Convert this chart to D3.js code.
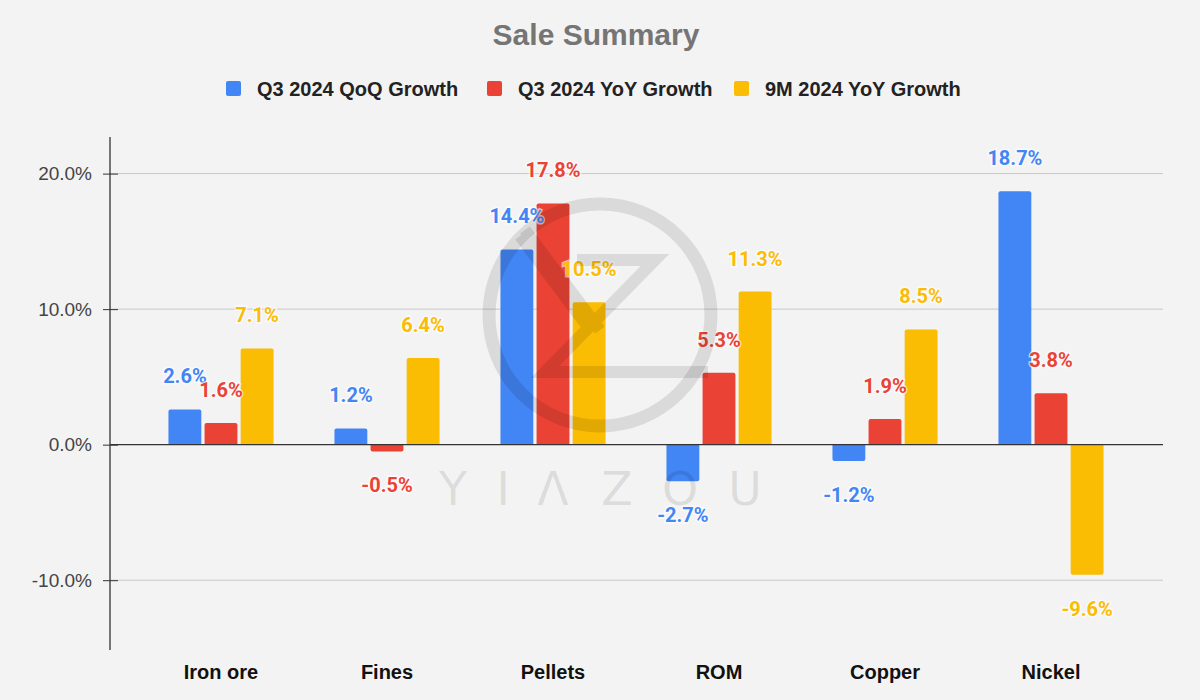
<!DOCTYPE html>
<html>
<head>
<meta charset="utf-8">
<script src="https://cdn.jsdelivr.net/npm/d3@7"></script>
<style>
  html, body { margin: 0; padding: 0; background: #f3f3f3; }
  svg { display: block; }
</style>
</head>
<body>
<svg id="chart" width="1200" height="700"></svg>
<script>
const categories = ["Iron ore", "Fines", "Pellets", "ROM", "Copper", "Nickel"];
const seriesNames = ["Q3 2024 QoQ Growth", "Q3 2024 YoY Growth", "9M 2024 YoY Growth"];
const qoqGrowth = [2.6, 1.2, 14.4, -2.7, -1.2, 18.7];
const yoyGrowth = [1.6, -0.5, 17.8, 5.3, 1.9, 3.8];
const nineMonthGrowth = [7.1, 6.4, 10.5, 11.3, 8.5, -9.6];
const yTicks = [-10, 0, 10, 20];
const colors = ["#4285F4", "#EA4335", "#FBBC04"];

const seriesValues = [qoqGrowth, yoyGrowth, nineMonthGrowth];
const data = categories.map((c, i) => ({
  cat: c,
  vals: seriesValues.map((s, k) => ({ key: seriesNames[k], v: s[i], k }))
}));

const svg = d3.select("#chart");
const W = 1200, H = 700;
svg.append("rect").attr("width", W).attr("height", H).attr("fill", "#f3f3f3");

const axisX = 110, plotRight = 1163, plotTop = 137, plotBottom = 650;

const y = d3.scaleLinear().domain([-15.15, 22.7]).range([plotBottom, plotTop]);
const x0 = d3.scaleBand().domain(categories).range([138, 1134]).paddingInner(0.367).paddingOuter(0.1835);
const x1 = d3.scaleBand().domain([0, 1, 2]).range([0, x0.bandwidth()]).paddingInner(0.09);

// Title
svg.append("text").attr("x", 596).attr("y", 45).attr("text-anchor", "middle")
  .attr("font-family", "Liberation Sans, Arial, sans-serif").attr("font-weight", "bold")
  .attr("font-size", 30).attr("fill", "#757575").text("Sale Summary");

// Legend
const legendX = [226, 487, 734];
const lg = svg.append("g");
seriesNames.forEach((n, k) => {
  lg.append("rect").attr("x", legendX[k]).attr("y", 81).attr("width", 15).attr("height", 15)
    .attr("rx", 2).attr("fill", colors[k]);
  lg.append("text").attr("x", legendX[k] + 31).attr("y", 95.5)
    .attr("font-family", "Liberation Sans, Arial, sans-serif").attr("font-weight", "bold")
    .attr("font-size", 20).attr("fill", "#222").text(n);
});

// Gridlines
const grid = svg.append("g");
grid.selectAll("line").data(yTicks.filter(t => t !== 0)).join("line")
  .attr("x1", axisX).attr("x2", plotRight)
  .attr("y1", d => y(d)).attr("y2", d => y(d))
  .attr("stroke", "#c8c8c8").attr("stroke-width", 1);

// Y axis
const yAxis = d3.axisLeft(y).tickValues(yTicks).tickFormat(d => d.toFixed(1) + "%").tickSize(7).tickPadding(8);
const ya = svg.append("g").attr("transform", `translate(${axisX},0)`).call(yAxis);
ya.select(".domain").remove();
ya.selectAll(".tick line").attr("x2", 8).attr("x1", -7).attr("stroke", "#333");
ya.selectAll(".tick text").attr("font-family", "Liberation Sans, Arial, sans-serif")
  .attr("font-size", 19).attr("fill", "#444").attr("x", -18);
svg.append("line").attr("x1", axisX).attr("x2", axisX).attr("y1", plotTop).attr("y2", plotBottom)
  .attr("stroke", "#333").attr("stroke-width", 1.3);

// Bars
const groups = svg.append("g").selectAll("g").data(data).join("g")
  .attr("transform", d => `translate(${x0(d.cat)},0)`);

groups.selectAll("path.bar").data(d => d.vals).join("path").attr("class", "bar")
  .attr("fill", d => colors[d.k])
  .attr("d", d => {
    const xL = x1(d.k), w = x1.bandwidth();
    const yv = y(d.v), y0 = y(0), r = 2;
    if (d.v >= 0) {
      return `M${xL},${y0}V${yv + r}Q${xL},${yv} ${xL + r},${yv}H${xL + w - r}Q${xL + w},${yv} ${xL + w},${yv + r}V${y0}Z`;
    } else {
      return `M${xL},${y0}V${yv - r}Q${xL},${yv} ${xL + r},${yv}H${xL + w - r}Q${xL + w},${yv} ${xL + w},${yv - r}V${y0}Z`;
    }
  });

// Zero line
svg.append("line").attr("x1", axisX).attr("x2", plotRight).attr("y1", y(0)).attr("y2", y(0))
  .attr("stroke", "#333").attr("stroke-width", 1.3);

// Data labels
groups.selectAll("text.lbl").data(d => d.vals).join("text").attr("class", "lbl")
  .attr("x", d => x1(d.k) + x1.bandwidth() / 2)
  .attr("y", d => d.v >= 0 ? y(d.v) - 26 : y(d.v) + 41)
  .attr("text-anchor", "middle")
  .attr("font-family", "Roboto, sans-serif").attr("font-weight", "bold").attr("font-size", 20)
  .attr("fill", d => colors[d.k])
  .attr("stroke", "#ffffff").attr("stroke-width", 3).attr("stroke-opacity", 0.6)
  .attr("paint-order", "stroke")
  .text(d => d.v.toFixed(1) + "%");

// Category labels
svg.append("g").selectAll("text").data(categories).join("text")
  .attr("x", d => x0(d) + x0.bandwidth() / 2).attr("y", 679)
  .attr("text-anchor", "middle")
  .attr("font-family", "Liberation Sans, Arial, sans-serif").attr("font-weight", "bold")
  .attr("font-size", 20).attr("fill", "#111").text(d => d);

// Watermark
const wm = svg.append("g").attr("pointer-events", "none");
const wmColor = "rgba(0,0,0,0.10)";
wm.append("circle").attr("cx", 600).attr("cy", 315).attr("r", 111)
  .attr("fill", "none").attr("stroke", wmColor).attr("stroke-width", 13);
wm.append("path")
  .attr("d", "M520,236 L590,330 M525,230 L600,330 M577,260 H655 L545,372 H708")
  .attr("fill", "none").attr("stroke", wmColor).attr("stroke-width", 12).attr("stroke-linejoin", "miter");
const wmLetters = ["Y", "I", "Λ", "Z", "O", "U"];
const wmX = [453, 503, 553, 617, 680, 745];
wm.selectAll("text").data(wmLetters).join("text")
  .attr("x", (d, i) => wmX[i]).attr("y", 505).attr("text-anchor", "middle")
  .attr("font-family", "DejaVu Sans, sans-serif")
  .attr("font-size", 46).attr("fill", wmColor).text(d => d);
</script>
</body>
</html>
